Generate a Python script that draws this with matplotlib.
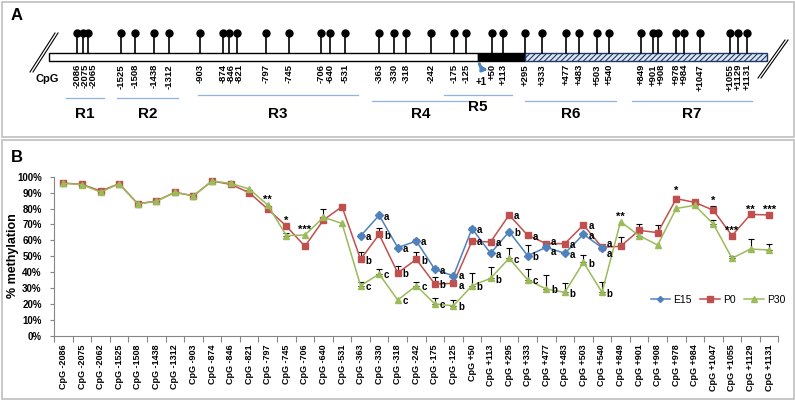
import numpy as np
import matplotlib
matplotlib.use('Agg')
import matplotlib.pyplot as plt
from matplotlib.patches import Rectangle, FancyArrowPatch

plt.rcParams['font.family'] = ['Liberation Sans', 'DejaVu Sans']
plt.rcParams['hatch.linewidth'] = 0.8

# --- data -----------------------------------------------------------------
cpg_sites = ['-2086', '-2075', '-2062', '-1525', '-1508', '-1438', '-1312',
             '-903', '-874', '-846', '-821', '-797', '-745', '-706', '-640', '-531',
             '-363', '-330', '-318', '-242', '-175', '-125', '+50', '+113',
             '+295', '+333', '+477', '+483', '+503', '+540',
             '+849', '+901', '+908', '+978', '+984', '+1047', '+1055', '+1129', '+1131']

e15 = [None, None, None, None, None, None, None, None, None, None, None, None, None,
       None, None, None,
       62.8, 75.8, 55.5, 59.6, 41.8, 37.7, 67.4, 51.9, 65.5, 50.4, 55.7, 51.9, 63.8, 55.5,
       None, None, None, None, None, None, None, None, None]
p0 = [96.0, 95.2, 91.0, 95.6, 83.0, 84.7, 90.2, 88.0, 97.3, 95.2, 90.0, 79.7, 69.0,
      56.3, 72.8, 81.2, 48.1, 63.8, 39.6, 48.1, 32.6, 33.1, 59.6, 59.0, 76.0, 63.2,
      58.0, 58.0, 69.7, 55.7, 56.3, 66.3, 64.9, 86.2, 83.9, 78.9, 63.0, 76.3, 76.0]
p30 = [95.9, 95.0, 90.3, 95.6, 82.9, 84.5, 90.2, 88.0, 97.3, 95.8, 92.3, 82.2, 63.0,
       63.4, 74.5, 70.7, 31.6, 38.9, 22.6, 31.6, 20.1, 19.0, 31.6, 36.2, 48.8, 35.2,
       29.5, 27.4, 46.3, 27.4, 71.8, 63.0, 57.1, 80.1, 82.0, 70.3, 48.8, 54.6, 54.0]

# upper error bars (%)
e15_err = [0, 0, 0, 0, 0, 0, 0, 0, 0, 0, 0, 0, 0, 0, 0, 0,
           1.5, 1, 0, 1, 1.5, 1.5, 1, 0, 0, 7, 0, 0, 1, 0,
           0, 0, 0, 0, 0, 0, 0, 0, 0]
p0_err = [0, 0, 0, 0, 0, 0, 0, 1.5, 0, 0, 0, 0, 0, 0, 0, 0,
          4.5, 3.8, 4.5, 4.4, 4.3, 0, 0, 0, 0, 0, 0, 0, 0, 0,
          6, 4, 5, 1.5, 0, 3, 0, 0, 0]
p30_err = [0, 0, 0, 0, 0, 0, 0, 0, 0, 0, 0, 0, 1.5, 0, 5, 0,
           2.5, 3.4, 0, 2, 3.6, 3.6, 7.8, 7.3, 6.2, 6.8, 8.8, 5.7, 4.5, 6.7,
           0, 1.5, 0, 0, 0, 2.5, 1.5, 6.3, 3.5]

sig_marks = ['', '', '', '', '', '', '', '', '', '', '', '**', '*', '***', '', '',
             '', '', '', '', '', '', '', '', '', '', '', '', '', '',
             '**', '', '', '*', '', '*', '***', '**', '***']

letter_start = 16
e15_letters = ['a', 'a', 'a', 'a', 'a', 'a', 'a', 'a', 'b', 'b', 'a', 'a', 'a', 'a']
p0_letters = ['b', 'b', 'b', 'b', 'b', 'a', 'a', 'a', 'a', 'a', 'a', 'a', 'a', 'a']
p30_letters = ['c', 'c', 'c', 'c', 'c', 'b', 'b', 'b', 'c', 'c', 'b', 'b', 'b', 'b']

# gene map (schematic, panel A)
map_labels = ['-2086', '-2075', '-2065', '-1525', '-1508', '-1438', '-1312',
              '-903', '-874', '-846', '-821', '-797', '-745', '-706', '-640', '-531',
              '-363', '-330', '-318', '-242', '-175', '-125', '+50', '+113',
              '+295', '+333', '+477', '+483', '+503', '+540',
              '+849', '+901', '+908', '+978', '+984', '+1047', '+1055', '+1129', '+1131']
map_x = [77, 83, 88, 121, 135, 154, 169, 200, 223, 229, 237, 266, 289, 321, 330, 345,
         379, 394, 406, 431, 454, 466, 492, 503, 525, 542, 566, 579, 597, 609,
         641, 653, 658, 676, 684, 700, 730, 738, 747]
regions = ['R1', 'R2', 'R3', 'R4', 'R5', 'R6', 'R7']
region_start = [66, 117, 198, 372, 444, 525, 632]
region_end = [104, 178, 358, 470, 512, 616, 752]

BLUE = '#4F81BD'
RED = '#C0504D'
GREEN = '#9BBB59'

fig = plt.figure(figsize=(7.95, 4.0), dpi=100)

# --- background / panel A (pixel coordinates) ------------------------------
bg = fig.add_axes([0, 0, 1, 1])
bg.set_xlim(0, 795)
bg.set_ylim(400, 0)
bg.axis('off')

bg.add_patch(Rectangle((1.5, 1.5), 792, 135, fill=False, ec='#BFBFBF', lw=1.2))
bg.add_patch(Rectangle((1.5, 139.5), 792, 259, fill=False, ec='#BFBFBF', lw=1.2))
bg.text(11, 16, 'A', fontsize=12, fontweight='bold', va='center')
bg.text(11, 158, 'B', fontsize=12, fontweight='bold', va='center')

# gene bar
bg.add_patch(Rectangle((49, 53), 429, 8, fc='white', ec='black', lw=1))
bg.add_patch(Rectangle((478, 53), 47, 8, fc='black', ec='black', lw=1))
bg.add_patch(Rectangle((525, 53), 242, 8, fc='#DCE6F2', ec='#1F3864', lw=1, hatch='//////'))

# double slashes
for dx in (0, 3):
    bg.plot([30 + dx, 55 + dx], [72, 33], color='black', lw=0.8)
    bg.plot([758 + dx, 785 + dx], [78, 40], color='black', lw=0.8)

# lollipops, labels nudged apart where sites sit very close together
label_x = []
for x in map_x:
    if label_x and x - label_x[-1] < 8:
        x = label_x[-1] + 8
    label_x.append(x)
for x, lx, lab in zip(map_x, label_x, map_labels):
    bg.plot([x, x], [53, 33], color='black', lw=1.2)
    bg.text(lx, 64, lab, rotation=90, ha='center', va='top', fontsize=6.8, fontweight='bold')
bg.plot(map_x, [33] * len(map_x), 'o', color='black', ms=5)

bg.text(47, 79, 'CpG', ha='center', va='center', fontsize=8, fontweight='bold')
bg.add_patch(FancyArrowPatch((479, 61), (491, 70), connectionstyle='angle3,angleA=90,angleB=0',
                             arrowstyle='-|>', mutation_scale=7, color=BLUE, lw=2.2))
bg.text(481, 82, '+1', ha='center', va='center', fontsize=7, fontweight='bold')

region_y = [98, 98, 95, 101, 95, 101, 101]
region_label_y = [114, 114, 114, 114, 107, 114, 114]
for name, x0, x1, ly, ty in zip(regions, region_start, region_end, region_y, region_label_y):
    bg.plot([x0, x1], [ly, ly], color='#8EB4E3', lw=0.9)
    bg.text((x0 + x1) / 2, ty, name, ha='center', va='center', fontsize=11, fontweight='bold')

# --- panel B chart -------------------------------------------------------
x = np.arange(len(cpg_sites))
ax = fig.add_axes([54.2 / 795, 1 - 336 / 400, (778.4 - 54.2) / 795, (336 - 176.7) / 400])
ax.set_facecolor('none')

series = [
    ('P0', p0, p0_err, RED, 's', 5.0, 2),
    ('E15', e15, e15_err, BLUE, 'D', 3.8, 3),
    ('P30', p30, p30_err, GREEN, '^', 5.0, 4),
]
handles = {}
for name, vals, err, color, mk, ms, z in series:
    y = np.array([np.nan if v is None else v for v in vals], dtype=float)
    e = np.array(err, dtype=float)
    has = e > 0
    ax.errorbar(x[has], y[has], yerr=[np.zeros(has.sum()), e[has]], fmt='none',
                ecolor='black', elinewidth=0.8, capsize=2.5, capthick=0.8, zorder=1)
    h, = ax.plot(x, y, color=color, lw=1.1, marker=mk, ms=ms, mfc=color, mec=color,
                 zorder=z, label=name)
    handles[name] = h

# group letters: keep letters at one site from sitting on top of each other
min_gap = 6.5  # % units (~10 px)
for k in range(len(e15_letters)):
    i = letter_start + k
    items = sorted([(e15[i], e15_letters[k]), (p0[i], p0_letters[k]), (p30[i], p30_letters[k])],
                   reverse=True)
    pos = []
    for v, let in items:
        yv = v
        if pos and pos[-1] - yv < min_gap:
            yv = pos[-1] - min_gap
        pos.append(yv)
    moved = [j for j, (p, (v, _)) in enumerate(zip(pos, items)) if p != v]
    if moved:
        # spread the pushed group evenly around its original centre
        grp = [moved[0] - 1] + moved
        shift = (sum(items[j][0] for j in grp) - sum(pos[j] for j in grp)) / len(grp)
        for j in grp:
            pos[j] += shift
    for yv, (v, let) in zip(pos, items):
        ax.annotate(let, (i, yv), xytext=(3.5, -1), textcoords='offset points',
                    ha='left', va='center', fontsize=7, fontweight='bold', zorder=6)

# significance stars
for i, s in enumerate(sig_marks):
    if s:
        top = max(p0[i] + p0_err[i], p30[i] + p30_err[i])
        ax.annotate(s, (i, top), xytext=(0, 0), textcoords='offset points',
                    ha='center', va='bottom', fontsize=8, fontweight='bold', zorder=6)

ax.set_xlim(-0.5, len(cpg_sites) - 0.5)
ax.set_ylim(0, 100)
ax.set_yticks(np.arange(0, 101, 10))
ax.set_yticklabels([f'{v}%' for v in range(0, 101, 10)])
ax.set_xticks(x)
ax.set_xticklabels(['CpG ' + s for s in cpg_sites], rotation=90)
ax.set_xticks(np.arange(-0.5, len(cpg_sites), 1), minor=True)
ax.tick_params(axis='x', which='major', length=0, pad=6, labelsize=6.5)
ax.tick_params(axis='x', which='minor', length=4, color='#868686', width=0.8)
ax.tick_params(axis='y', length=3, color='#868686', width=0.8, labelsize=7, pad=6)
for lab in ax.get_xticklabels() + ax.get_yticklabels():
    lab.set_fontweight('bold')
for side in ('top', 'right'):
    ax.spines[side].set_visible(False)
for side in ('left', 'bottom'):
    ax.spines[side].set_color('#868686')
    ax.spines[side].set_linewidth(0.8)

fig.text(13 / 795, 1 - 256 / 400, '% methylation', rotation=90, ha='center', va='center',
         fontsize=9, fontweight='bold')

fig.legend([handles['E15'], handles['P0'], handles['P30']], ['E15', 'P0', 'P30'],
           loc='center', bbox_to_anchor=(718 / 795, 1 - 300 / 400), ncol=3, frameon=False,
           fontsize=7.5, handlelength=1.9, columnspacing=0.8, handletextpad=0.3,
           markerscale=0.8)

fig.savefig('out.png', dpi=100)
